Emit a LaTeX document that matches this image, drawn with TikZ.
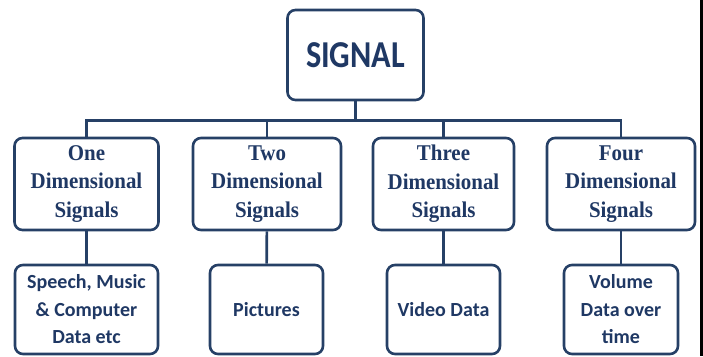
\documentclass[tikz,border=0pt]{standalone}
\usepackage{fontspec}
\setmainfont{Carlito}
\newfontfamily\signalfont[FakeStretch=0.85]{Carlito}
\newfontfamily\dimfont[FakeStretch=0.93]{Liberation Serif}
\usepackage{tikz}
\usetikzlibrary{positioning}
\definecolor{boxline}{RGB}{38,64,102}
\definecolor{boxtext}{RGB}{31,56,100}

\begin{document}
\begin{tikzpicture}[
		x=1pt, y=1pt,
		box/.style={rectangle, rounded corners=8pt, draw=boxline, line width=2.6pt, fill=white, text=boxtext, align=center, inner sep=0pt},
		top/.style={box, minimum width=136pt, minimum height=90pt, font=\signalfont\bfseries\fontsize{38}{40}\selectfont},
		kind/.style={box, minimum width=144pt, minimum height=92pt, font=\dimfont\bfseries\fontsize{22.5}{28.5}\selectfont},
		example/.style={box, minimum width=113pt, minimum height=89pt, font=\bfseries\fontsize{20}{27.5}\selectfont},
		link/.style={draw=boxline, line width=2.6pt}
		]
		\useasboundingbox (0,0) rectangle (703,-356);
		\fill[black] (700,0) rectangle (703,-356);

		\node (signal) at (355.5, -55) [top] {SIGNAL};

		\node (one dim) at (86.5, -184) [kind] {One\\Dimensional\\Signals};
		\node (two dim) at (267, -184) [kind, minimum width=148pt] {Two\\Dimensional\\Signals};
		\node (three dim) at (443.5, -184) [kind, minimum width=141pt] {Three\\Dimensional\\Signals};
		\node (four dim) at (621, -184) [kind, minimum width=148pt] {Four\\Dimensional\\Signals};

		\node (speech) at (86.5, -309.5) [example, minimum width=143pt] {Speech, Music\\\& Computer\\Data etc};
		\node (pictures) at (266.5, -309.5) [example] {Pictures};
		\node (video) at (443.5, -309.5) [example] {Video Data};
		\node (volume) at (621, -309.5) [example, minimum width=114pt] {Volume\\Data over\\time};

		\foreach \dim in {one dim, two dim, three dim, four dim}
			\draw[link] (signal.south) -- ++(0,-19) -| (\dim.north);
		\draw[link] (one dim) -- (speech);
		\draw[link] (two dim) -- (pictures);
		\draw[link] (three dim) -- (video);
		\draw[link] (four dim) -- (volume);
	\end{tikzpicture}
\end{document}
